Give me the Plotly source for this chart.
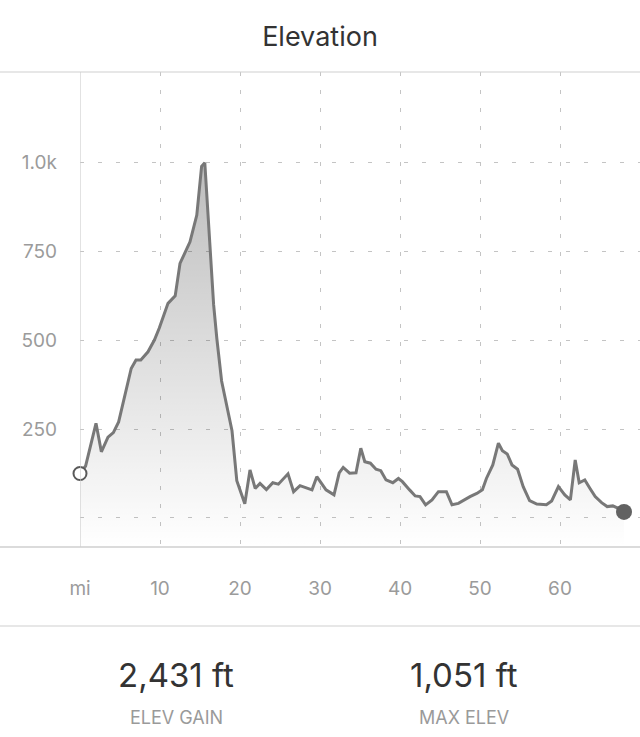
import plotly.graph_objects as go

# ---- data ----
miles = [0, 0.7, 2.0, 2.67, 3.5, 4.17, 4.83, 5.67, 6.4, 7.0,
         7.6, 8.5, 9.3, 9.9, 11.0, 11.9, 12.5, 13.75, 14.6, 15.2,
         15.6, 16.7, 17.1, 17.7, 19.0, 19.6, 20.6, 21.25, 21.9, 22.5,
         23.3, 24.1, 24.8, 26.0, 26.7, 27.5, 29.0, 29.6, 30.75, 31.75,
         32.4, 32.9, 33.7, 34.5, 35.1, 35.6, 36.3, 37.0, 37.6, 38.25,
         39.1, 39.8, 40.3, 41.2, 41.9, 42.5, 43.2, 44.0, 44.8, 45.8,
         46.5, 47.3, 47.9, 48.75, 49.6, 50.3, 50.8, 51.6, 52.3, 52.8,
         53.4, 54.0, 54.7, 55.4, 56.2, 57.1, 58.3, 58.96, 59.8, 60.6,
         61.3, 61.9, 62.4, 63.1, 63.75, 64.4, 65.2, 65.9, 66.6, 67.3,
         68.0]
elevation_ft = [125, 146, 266, 186, 227, 240, 270, 350, 420, 444,
                444, 467, 500, 533, 603, 624, 715, 776, 851, 988,
                998, 600, 505, 385, 245, 105, 40, 135, 83, 97,
                80, 99, 95, 124, 74, 91, 79, 116, 79, 65,
                127, 142, 126, 127, 196, 158, 154, 137, 133, 107,
                99, 111, 102, 79, 62, 60, 37, 51, 74, 74,
                37, 41, 49, 60, 69, 79, 111, 149, 210, 189,
                180, 149, 137, 88, 49, 39, 37, 48, 88, 65,
                51, 163, 99, 107, 83, 60, 43, 32, 34, 27,
                17]

x_tick_vals = [0, 10, 20, 30, 40, 50, 60]
x_tick_text = ["mi", "10", "20", "30", "40", "50", "60"]
y_tick_vals = [0, 250, 500, 750, 1000]
y_tick_text = ["", "250", "500", "750", "1.0k"]

stat_values = ["2,431 ft", "1,051 ft"]
stat_labels = ["ELEV GAIN", "MAX ELEV"]

# ---- axis extents ----
X_RANGE = [0, 70]
Y_RANGE = [-81.5, 1253]

FONT = "Inter, Roboto, Liberation Sans, sans-serif"
GRID = "#c4c4c4"
LINE = "#cfcfcf"
TICK = "#9b9b9b"

fig = go.Figure()

# baseline to fill down to the bottom of the plot
fig.add_trace(go.Scatter(
    x=[miles[0], miles[-1]], y=[Y_RANGE[0], Y_RANGE[0]],
    mode="lines", line=dict(width=0, color="rgba(0,0,0,0)"),
    hoverinfo="skip", showlegend=False))

fig.add_trace(go.Scatter(
    x=miles, y=elevation_ft, mode="lines",
    line=dict(color="#787878", width=3),
    fill="tonexty",
    fillgradient=dict(type="vertical",
                      colorscale=[[0, "rgba(0,0,0,0)"], [1, "rgba(0,0,0,0.26)"]],
                      start=Y_RANGE[0], stop=1000),
    showlegend=False))

# start / end markers
fig.add_trace(go.Scatter(
    x=[miles[0]], y=[elevation_ft[0]], mode="markers",
    marker=dict(size=13, color="white", line=dict(color="#595959", width=2)),
    showlegend=False, cliponaxis=False))
fig.add_trace(go.Scatter(
    x=[miles[-1]], y=[elevation_ft[-1]], mode="markers",
    marker=dict(size=16, color="#626262"),
    showlegend=False, cliponaxis=False))

left_paper = -80 / 560

shapes = [
    dict(type="line", xref="paper", yref="paper", x0=left_paper, x1=1, y0=1, y1=1,
         line=dict(color=LINE, width=1.2)),
    dict(type="line", xref="paper", yref="paper", x0=left_paper, x1=1, y0=0, y1=0,
         line=dict(color=LINE, width=1.5)),
    dict(type="line", xref="x", yref="paper", x0=0, x1=0, y0=0, y1=1,
         line=dict(color=LINE, width=1.2)),
    dict(type="line", xref="paper", yref="paper", x0=left_paper, x1=1,
         y0=(547 - 626) / 475, y1=(547 - 626) / 475,
         line=dict(color=LINE, width=1.2)),
]

annotations = []
stat_x = [(176 - 80) / 560, (464 - 80) / 560]
for sx, v, lab in zip(stat_x, stat_values, stat_labels):
    annotations.append(dict(x=sx, y=(547 - 675) / 475, xref="paper", yref="paper",
                            text=v, showarrow=False, xanchor="center", yanchor="middle",
                            font=dict(family=FONT, size=33, color="#333333")))
    annotations.append(dict(x=sx, y=(547 - 718) / 475, xref="paper", yref="paper",
                            text=lab, showarrow=False, xanchor="center", yanchor="middle",
                            font=dict(family=FONT, size=18, color="#9a9a9a")))

fig.update_layout(
    width=640, height=737,
    margin=dict(l=80, r=0, t=72, b=190),
    paper_bgcolor="white", plot_bgcolor="white",
    title=dict(text="Elevation", x=0.5, xref="container", xanchor="center",
               y=1 - 37 / 737, yref="container", yanchor="middle",
               font=dict(family=FONT, size=27, color="#333333")),
    xaxis=dict(range=X_RANGE, tickvals=x_tick_vals, ticktext=x_tick_text,
               showgrid=True, gridcolor=GRID, griddash="4px,14px", gridwidth=1.4,
               zeroline=False, showline=False, ticks="",
               ticklabelstandoff=28,
               tickfont=dict(family=FONT, size=19, color=TICK), fixedrange=True),
    yaxis=dict(range=Y_RANGE, tickvals=y_tick_vals, ticktext=y_tick_text,
               showgrid=True, gridcolor=GRID, griddash="4px,14px", gridwidth=1.4,
               zeroline=False, showline=False, ticks="",
               ticklabelstandoff=22,
               tickfont=dict(family=FONT, size=19, color=TICK), fixedrange=True),
    shapes=shapes, annotations=annotations, showlegend=False,
)

fig.write_html("out.html",
               config={"displayModeBar": False},
               post_script="document.body.style.margin='0';document.body.style.overflow='hidden';")
